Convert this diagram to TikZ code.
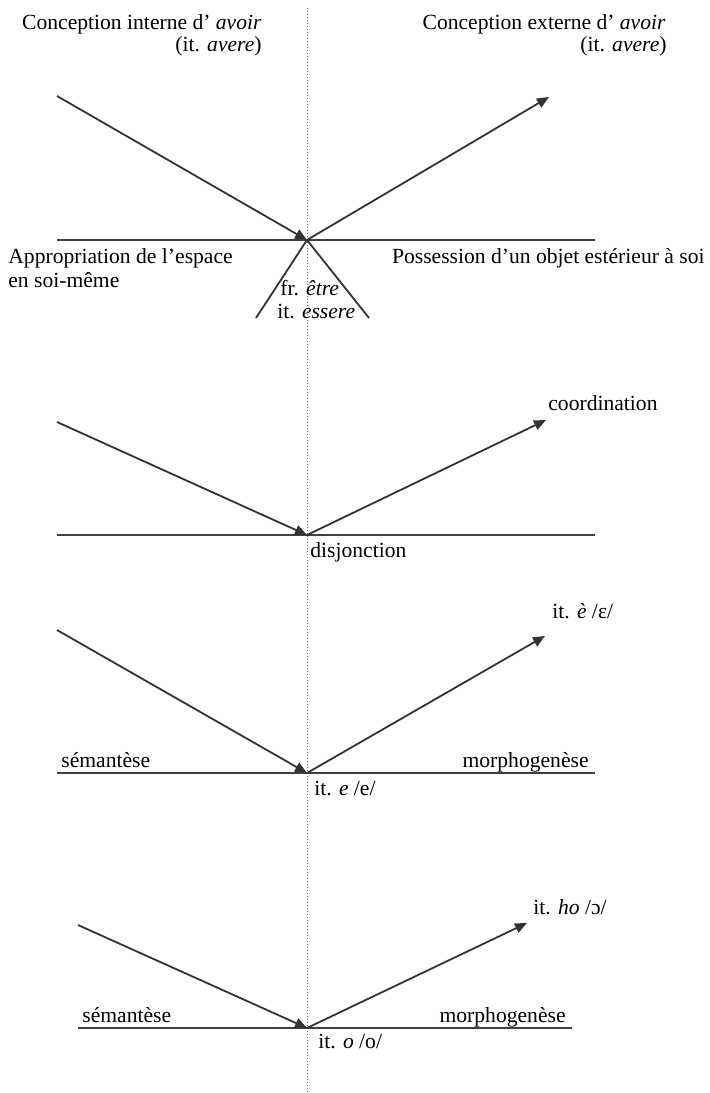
\documentclass[tikz,border=0pt]{standalone}
\usepackage{fontspec}
\setmainfont{Liberation Serif}
\usetikzlibrary{arrows.meta}
\tikzset{
  axe/.style={line width=1.2pt, black!75},
  trait/.style={line width=0.9pt, black!80},
  fleche/.style={trait, -{Triangle[length=6pt,width=5pt]}},
  pointille/.style={line width=0.5pt, black!55, densely dotted},
  etiq/.style={inner sep=0pt, font=\fontsize{10.8}{12}\selectfont},
}
\begin{document}
\begin{tikzpicture}[x=0.5pt, y=-0.5pt] % 以像素为单位
    \useasboundingbox (0,0) rectangle (710,1093);

    % 中间的竖直虚线
    \coordinate (haut) at (307,8);
    \coordinate (bas) at (307,1093);
    \draw[pointille] (haut) -- (bas);

    % === 第一部分：avoir / être ===
    \coordinate (O1) at (307,240);
    \coordinate (G1) at (57,96);
    \coordinate (D1) at (549,97);
    \coordinate (L1) at (57,240);
    \coordinate (R1) at (595,240);
    \coordinate (X1) at (256,318);
    \coordinate (Y1) at (369,318);
    \draw[axe] (L1) -- (R1);
    \draw[fleche] (G1) -- (O1);
    \draw[fleche] (O1) -- (D1);
    \draw[trait] (O1) -- (X1);
    \draw[trait] (O1) -- (Y1);

    \node[etiq, anchor=base east] (intA) at (262,29) {Conception interne d’ \textit{avoir}};
    \node[etiq, anchor=base east] (intB) at (262,51) {(it. \textit{avere})};
    \node[etiq, anchor=base east] (extA) at (666,29) {Conception externe d’ \textit{avoir}};
    \node[etiq, anchor=base east] (extB) at (667,51) {(it. \textit{avere})};
    \node[etiq, anchor=base west] (appA) at (8,263) {Appropriation de l’espace};
    \node[etiq, anchor=base west] (appB) at (8,287) {en soi-même};
    \node[etiq, anchor=base east] (poss) at (705,263) {Possession d’un objet estérieur à soi};
    \node[etiq, anchor=base west] (etreA) at (280,295) {fr. \textit{être}};
    \node[etiq, anchor=base west] (etreB) at (277,318) {it. \textit{essere}};

    % === 第二部分：disjonction / coordination ===
    \coordinate (O2) at (307,535);
    \coordinate (G2) at (57,422);
    \coordinate (D2) at (546,420);
    \coordinate (L2) at (57,535);
    \coordinate (R2) at (595,535);
    \draw[axe] (L2) -- (R2);
    \draw[fleche] (G2) -- (O2);
    \draw[fleche] (O2) -- (D2);

    \node[etiq, anchor=base west] (coord) at (548,410) {coordination};
    \node[etiq, anchor=base west] (disj) at (310,557) {disjonction};

    % === 第三部分：it. e / è ===
    \coordinate (O3) at (307,773);
    \coordinate (G3) at (57,630);
    \coordinate (D3) at (545,636);
    \coordinate (L3) at (57,773);
    \coordinate (R3) at (595,773);
    \draw[axe] (L3) -- (R3);
    \draw[fleche] (G3) -- (O3);
    \draw[fleche] (O3) -- (D3);

    \node[etiq, anchor=base west] (eOuv) at (552,618) {it. \textit{è} /ɛ/};
    \node[etiq, anchor=base west] (semA) at (61,767) {sémantèse};
    \node[etiq, anchor=base east] (morA) at (589,767) {morphogenèse};
    \node[etiq, anchor=base west] (eFer) at (314,795) {it. \textit{e} /e/};

    % === 第四部分：it. o / ho ===
    \coordinate (O4) at (307,1028);
    \coordinate (G4) at (78,925);
    \coordinate (D4) at (527,923);
    \coordinate (L4) at (78,1028);
    \coordinate (R4) at (572,1028);
    \draw[axe] (L4) -- (R4);
    \draw[fleche] (G4) -- (O4);
    \draw[fleche] (O4) -- (D4);

    \node[etiq, anchor=base west] (oOuv) at (533,914) {it. \textit{ho} /ɔ/};
    \node[etiq, anchor=base west] (semB) at (82,1022) {sémantèse};
    \node[etiq, anchor=base east] (morB) at (566,1022) {morphogenèse};
    \node[etiq, anchor=base west] (oFer) at (318,1048) {it. \textit{o} /o/};
\end{tikzpicture}
\end{document}
